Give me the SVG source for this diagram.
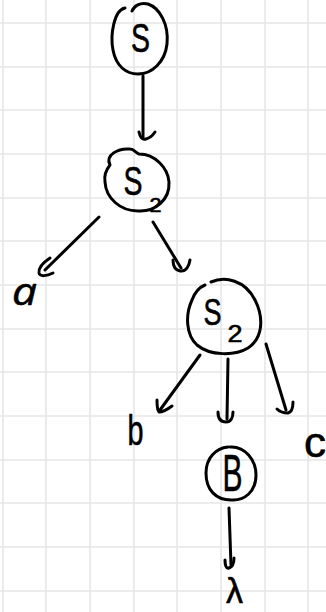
<svg xmlns="http://www.w3.org/2000/svg" width="326" height="612" viewBox="0 0 326 612">
  <style>
    .grid line { stroke: #e6e6e6; stroke-width: 1.6; }
    .ink { fill: none; stroke: #000; stroke-width: 3; stroke-linecap: round; stroke-linejoin: round; }
    .lbl { font-family: "Liberation Sans", "DejaVu Sans", sans-serif; fill: #000; stroke: #000; stroke-width: 0.6; stroke-linejoin: round; text-anchor: middle; }
    .hand { font-family: "Open Sans", "Noto Sans", sans-serif; font-style: italic; }
  </style>
  <rect width="326" height="612" fill="#fff"/>
  <!-- squared paper -->
  <g class="grid">
    <line x1="3" y1="0" x2="3" y2="612"/>
    <line x1="46" y1="0" x2="46" y2="612"/>
    <line x1="90" y1="0" x2="90" y2="612"/>
    <line x1="134" y1="0" x2="134" y2="612"/>
    <line x1="177" y1="0" x2="177" y2="612"/>
    <line x1="221" y1="0" x2="221" y2="612"/>
    <line x1="265" y1="0" x2="265" y2="612"/>
    <line x1="308" y1="0" x2="308" y2="612"/>
    <line x1="0" y1="23" x2="326" y2="23"/>
    <line x1="0" y1="67" x2="326" y2="67"/>
    <line x1="0" y1="110" x2="326" y2="110"/>
    <line x1="0" y1="154" x2="326" y2="154"/>
    <line x1="0" y1="198" x2="326" y2="198"/>
    <line x1="0" y1="241" x2="326" y2="241"/>
    <line x1="0" y1="285" x2="326" y2="285"/>
    <line x1="0" y1="329" x2="326" y2="329"/>
    <line x1="0" y1="372" x2="326" y2="372"/>
    <line x1="0" y1="416" x2="326" y2="416"/>
    <line x1="0" y1="460" x2="326" y2="460"/>
    <line x1="0" y1="503" x2="326" y2="503"/>
    <line x1="0" y1="547" x2="326" y2="547"/>
    <line x1="0" y1="591" x2="326" y2="591"/>
  </g>

  <!-- tree edges with hand-drawn hooks as arrowheads -->
  <g id="connectors" class="ink">
    <path d="M143,76 L143,138"/>
    <path d="M139,132 C140,137 142,140 146,139 C150,138 153,135 155,132"/>

    <path d="M99,217 L45,270"/>
    <path d="M50,258 C44,262 38,267 39,273 C40,277 47,276 53,273"/>

    <path d="M153,222 L181,268"/>
    <path d="M173,260 C173,266 175,270 180,271 C186,272 189,266 190,260"/>

    <path d="M200,355 L160,410"/>
    <path d="M157,400 C157,405 157,410 159,412 C163,412 168,409 172,406"/>

    <path d="M228,359 L227,419"/>
    <path d="M218,412 C218,418 220,422 226,422 C231,422 233,417 233,412"/>

    <path d="M266,344 L286,410"/>
    <path d="M277,409 C280,412 284,413 288,413 C292,412 293,406 293,402"/>

    <path d="M229,508 L231,565"/>
    <path d="M225,560 C225,565 226,569 229,568 C232,567 234,563 234,558"/>
  </g>

  <g id="node-S">
    <path class="ink" d="M125,8 C114,10 110,35 113,50 C116,66 126,74 138,74 C152,74 165,62 167,44 C169,25 160,8 148,4 C140,2 134,6 132,11"/>
    <text class="lbl" x="140.5" y="52" font-size="40" textLength="19" lengthAdjust="spacingAndGlyphs">S</text>
  </g>

  <g id="node-S2-top">
    <path class="ink" d="M110,165 C105,155 118,148 130,149 C134,149 136,153 139,154 C155,154 168,168 169,182 C170,200 155,212 138,211 C120,211 106,198 105,182 C104,176 106,170 110,165"/>
    <text class="lbl" x="133" y="195" font-size="41" textLength="19" lengthAdjust="spacingAndGlyphs">S</text>
    <text class="lbl" x="155.5" y="212" font-size="20" textLength="12" lengthAdjust="spacingAndGlyphs">2</text>
  </g>

  <g id="node-S2-mid">
    <path class="ink" d="M211,282 C225,276 245,280 255,300 C264,318 263,338 248,348 C235,356 210,356 197,345 C186,335 185,315 192,300 C195,292 200,287 205,285"/>
    <text class="lbl" x="212.5" y="325" font-size="37" textLength="18" lengthAdjust="spacingAndGlyphs">S</text>
    <text class="lbl" x="235" y="342" font-size="23" textLength="15" lengthAdjust="spacingAndGlyphs">2</text>
  </g>

  <g id="node-B">
    <path class="ink" d="M230,447 C245,446 256,460 256,475 C256,492 244,501 231,500 C216,500 206,490 206,473 C206,458 216,448 228,447"/>
    <text class="lbl" x="232.5" y="491" font-size="52" textLength="20" lengthAdjust="spacingAndGlyphs">B</text>
  </g>

  <g id="leaf-a">
    <text class="lbl hand" x="24.5" y="305" font-size="38" textLength="25" lengthAdjust="spacingAndGlyphs">a</text>
  </g>
  <g id="leaf-b">
    <text class="lbl" x="135.5" y="445" font-size="42" textLength="16" lengthAdjust="spacingAndGlyphs">b</text>
  </g>
  <g id="leaf-c">
    <text class="lbl" x="315" y="457" font-size="42" textLength="22" lengthAdjust="spacingAndGlyphs">c</text>
  </g>
  <g id="leaf-lambda">
    <text class="lbl" x="234.5" y="603" font-size="35" textLength="17" lengthAdjust="spacingAndGlyphs">λ</text>
  </g>
</svg>
